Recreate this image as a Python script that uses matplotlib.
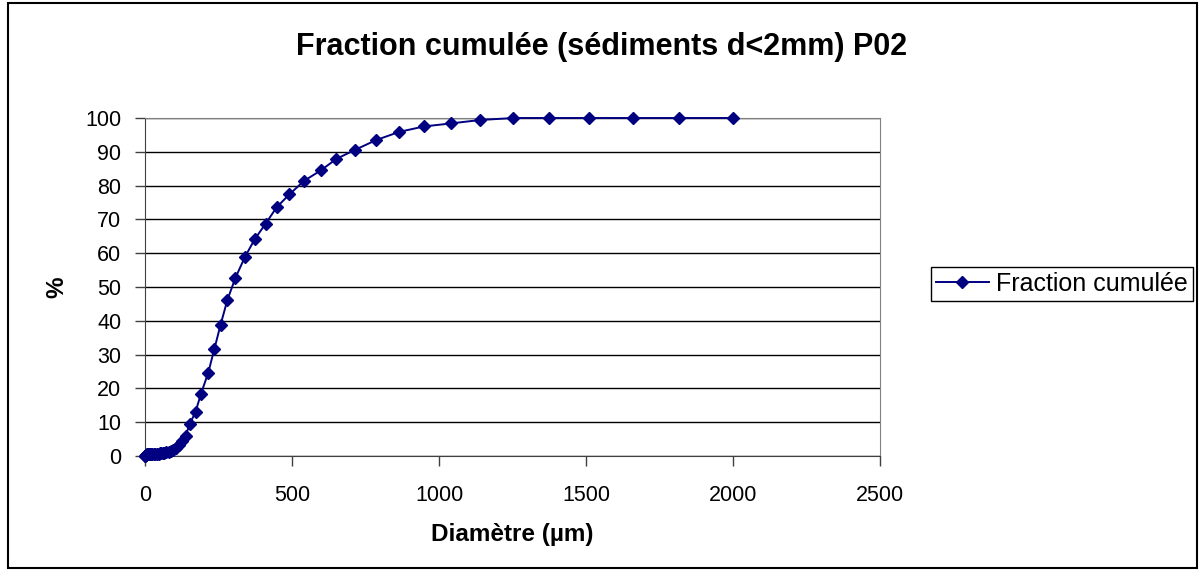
import numpy as np
import matplotlib.pyplot as plt
from matplotlib.patches import Rectangle

plt.rcParams['font.family'] = ['Liberation Sans', 'DejaVu Sans']

# diameter classes (um) and cumulative fraction (%)
diam = [0.5, 1, 2, 3, 4, 5, 6, 8, 10, 12, 14, 16.5, 20, 24, 29, 35, 42, 46, 50,
        55, 60, 66, 73, 80, 87, 96, 105, 115, 126, 138, 152, 172, 190, 215,
        236, 257, 280, 307, 340, 373, 410, 448, 491, 541, 598, 651, 715, 787,
        865, 949, 1041, 1139, 1253, 1375, 1511, 1659, 1817, 2000]
frac = [0.0, 0.1, 0.2, 0.3, 0.35, 0.4, 0.45, 0.5, 0.5, 0.55, 0.55, 0.6, 0.6,
        0.6, 0.65, 0.65, 0.7, 0.7, 0.75, 0.8, 0.9, 1.0, 1.1, 1.3, 1.5, 1.9,
        2.4, 3.2, 4.3, 6.0, 9.4, 13.1, 18.3, 24.6, 31.7, 38.8, 46.1, 52.6,
        58.9, 64.1, 68.7, 73.6, 77.4, 81.4, 84.5, 87.9, 90.6, 93.5, 95.9,
        97.5, 98.4, 99.4, 100, 100, 100, 100, 100, 100]

fig = plt.figure(figsize=(12.04, 5.71), dpi=100)
ax = fig.add_axes([145 / 1204, 115 / 571, 735 / 1204, 338 / 571])

ax.plot(diam, frac, color='#000080', marker='D', markersize=6.5, linewidth=1.4,
        label='Fraction cumulée', clip_on=False, zorder=3)

ax.set_xlim(0, 2500)
ax.set_ylim(0, 100)
ax.set_xticks(np.arange(0, 2501, 500))
ax.set_yticks(np.arange(0, 101, 10))
ax.yaxis.grid(True, color='black', linewidth=1)
ax.set_axisbelow(True)
for side in ['top', 'right']:
    ax.spines[side].set_color('#808080')
for side in ['left', 'bottom']:
    ax.spines[side].set_color('#404040')
ax.tick_params(axis='both', direction='out', length=7, labelsize=15.5, width=1,
               color='#404040')
ax.tick_params(axis='x', pad=14)
ax.tick_params(axis='y', pad=10)

ax.set_xlabel('Diamètre (µm)', fontsize=17.5, fontweight='bold', labelpad=12)
ax.set_ylabel('%', fontsize=17.5, fontweight='bold', labelpad=12)
fig.text(0.5, 1 - 47 / 571, 'Fraction cumulée (sédiments d<2mm) P02',
         ha='center', va='center', fontsize=22, fontweight='bold')

leg = ax.legend(loc='center left', bbox_to_anchor=(931 / 1204, 1 - 284 / 571),
                bbox_transform=fig.transFigure, fontsize=18, fancybox=False,
                edgecolor='black', framealpha=1, handlelength=2.1,
                borderpad=0.2, handletextpad=0.3, borderaxespad=0)
leg.get_frame().set_linewidth(1)

fig.patches.append(Rectangle((8 / 1204, 3 / 571), 1189 / 1204, 565 / 571,
                             transform=fig.transFigure, fill=False,
                             edgecolor='black', linewidth=1.5))

fig.savefig('out.png', dpi=100)
